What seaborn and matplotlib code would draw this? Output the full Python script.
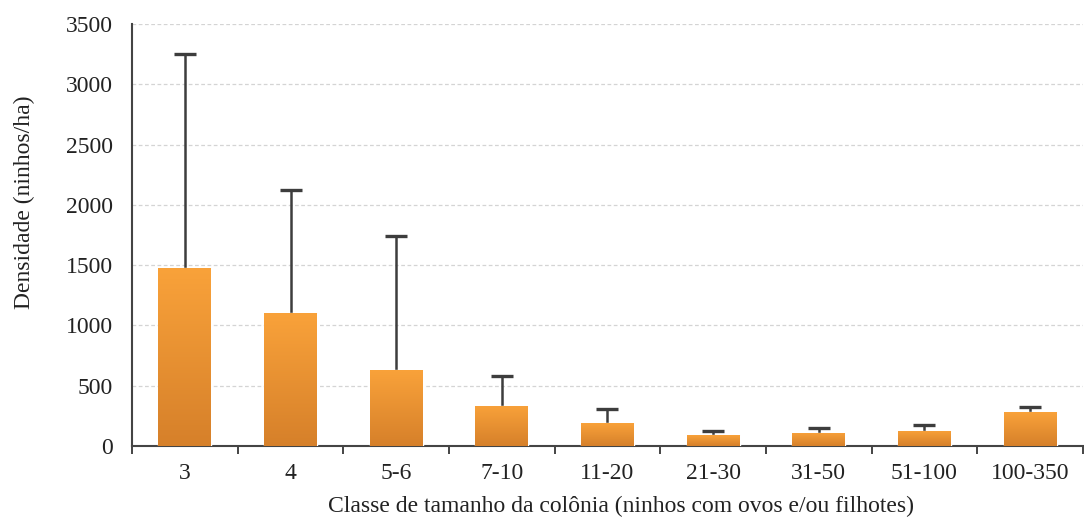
import numpy as np
import pandas as pd
import matplotlib
matplotlib.use("Agg")
import matplotlib.pyplot as plt
from matplotlib.colors import LinearSegmentedColormap
import seaborn as sns

classes = ["3", "4", "5-6", "7-10", "11-20", "21-30", "31-50", "51-100", "100-350"]
densidade = [1475, 1100, 630, 333, 188, 90, 110, 125, 278]
erro_sup = [1775, 1020, 1110, 250, 120, 38, 38, 50, 45]

sns.set_theme(style="white")
plt.rcParams["font.family"] = ["Liberation Serif", "DejaVu Serif"]

df = pd.DataFrame({"classe": classes, "densidade": densidade})

fig = plt.figure(figsize=(10.84, 5.22), dpi=100)
ax = fig.add_axes([0.1218, 0.1456, 0.8772, 0.8084])

sns.barplot(data=df, x="classe", y="densidade", color="#F29A32", width=0.5,
            saturation=1, ax=ax, zorder=3)

# vertical orange gradient inside each bar
grad = LinearSegmentedColormap.from_list("laranja", ["#D6802A", "#F9A23A"])
ramp = np.linspace(0, 1, 256).reshape(-1, 1)
for patch in ax.patches:
    x0, y0 = patch.get_x(), patch.get_y()
    w, h = patch.get_width(), patch.get_height()
    im = ax.imshow(ramp, cmap=grad, origin="lower", aspect="auto",
                   extent=[x0, x0 + w, y0, y0 + h], zorder=3.5)
    im.set_clip_path(patch)

# upper-only error bars: stem from the bar top, cap at the upper end
pos = np.arange(len(classes))
topo = np.array(densidade) + np.array(erro_sup)
ax.errorbar(pos, densidade, yerr=[np.zeros(len(classes)), erro_sup], fmt="none",
            ecolor="#3d3d3d", elinewidth=1.8, capsize=0, zorder=2)
ax.scatter(pos, topo, marker="_", s=260, linewidths=2.4, color="#3d3d3d", zorder=2)

ax.set_xlim(-0.5, len(classes) - 0.5)
ax.set_ylim(0, 3500)
ax.set_yticks(np.arange(0, 3501, 500))
ax.yaxis.grid(True, linestyle=(0, (3, 2)), color="#d4d4d4", linewidth=0.9, zorder=0)
ax.set_axisbelow(True)

ax.set_xticks(pos)
ax.set_xticks(np.arange(-0.5, len(classes), 1.0), minor=True)
ax.tick_params(axis="x", which="major", length=0, pad=12, labelsize=17, colors="#222222")
ax.tick_params(axis="x", which="minor", length=6, width=1.4, color="#444444", bottom=True)
ax.tick_params(axis="y", length=0, pad=14, labelsize=17, colors="#222222")

for side in ["top", "right"]:
    ax.spines[side].set_visible(False)
for side in ["left", "bottom"]:
    ax.spines[side].set_color("#444444")
    ax.spines[side].set_linewidth(1.5)

ax.set_xlabel("Classe de tamanho da colônia (ninhos com ovos e/ou filhotes)",
              fontsize=17, color="#222222")
ax.set_ylabel("Densidade (ninhos/ha)", fontsize=17, color="#222222")
ax.xaxis.set_label_coords(0.514, -0.118)
ax.yaxis.set_label_coords(-0.102, 0.578)

fig.savefig("out.png", dpi=100, facecolor="white")
